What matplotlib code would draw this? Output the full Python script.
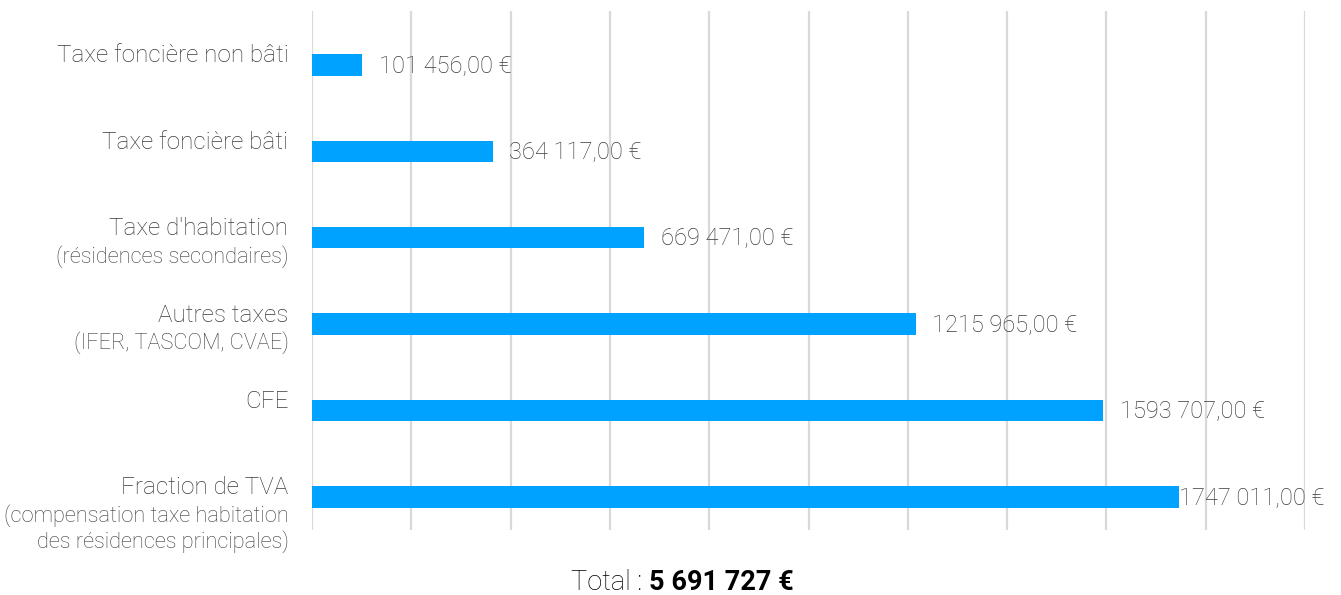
import matplotlib.pyplot as plt
from matplotlib.transforms import blended_transform_factory

# === Data ===
main_labels = ["Taxe foncière non bâti", "Taxe foncière bâti", "Taxe d'habitation",
               "Autres taxes", "CFE", "Fraction de TVA"]
sub_labels = [[], [], ["(résidences secondaires)"], ["(IFER, TASCOM, CVAE)"], [],
              ["(compensation taxe habitation", "des résidences principales)"]]
values = [101456, 364117, 669471, 1215965, 1593707, 1747011]
value_labels = ["101 456,00 €", "364 117,00 €", "669 471,00 €",
                "1215 965,00 €", "1593 707,00 €", "1747 011,00 €"]
total_label = "5 691 727 €"

plt.rcParams['font.family'] = ['Roboto', 'DejaVu Sans']
grey = "#3c3c3c"
blue = "#00A2FF"

fig = plt.figure(figsize=(13.41, 5.95), dpi=100)
ax = fig.add_axes([312 / 1341, 1 - 530 / 595, (1305 - 312) / 1341, (530 - 11) / 595])

ypos = list(range(len(values)))
ax.barh(ypos, values, height=0.25, color=blue, zorder=3)

ax.set_xlim(0, 2000000)
ax.set_ylim(len(values) - 1 + 0.385, -0.625)
ax.set_xticks(range(0, 2000001, 200000))
ax.set_yticks([])
ax.tick_params(axis='x', length=0, labelbottom=False)
ax.grid(axis='x', color='#d9d9d9', linewidth=1.6, zorder=0)
for s in ax.spines.values():
    s.set_visible(False)

# value labels
for y, v, lab in zip(ypos, values, value_labels):
    off = 12 if v < 1700000 else 0
    ax.annotate(lab, xy=(v, y), xytext=(off, -1), textcoords='offset points',
                ha='left', va='center', fontsize=17, color=grey,
                fontweight='light', zorder=4)

# category labels
trans = blended_transform_factory(ax.transAxes, ax.transData)
for y, main, subs in zip(ypos, main_labels, sub_labels):
    ax.annotate(main, xy=(0, y), xycoords=trans, xytext=(-17, 6.5),
                textcoords='offset points', ha='right', va='center',
                fontsize=17.5, color=grey, fontweight='light')
    for k, sub in enumerate(subs):
        ax.annotate(sub, xy=(0, y), xycoords=trans, xytext=(-17, -13.5 - 19 * k),
                    textcoords='offset points', ha='right', va='center',
                    fontsize=15.7, color=grey, fontweight='light')

# total
fig.text(0.484, 0.0084, "Total : ", ha='right', va='baseline', fontsize=19.5,
         color='black', fontweight='light')
fig.text(0.484, 0.0084, total_label, ha='left', va='baseline', fontsize=19.5,
         color='black', fontweight='bold')

fig.savefig("out.png", dpi=100)
